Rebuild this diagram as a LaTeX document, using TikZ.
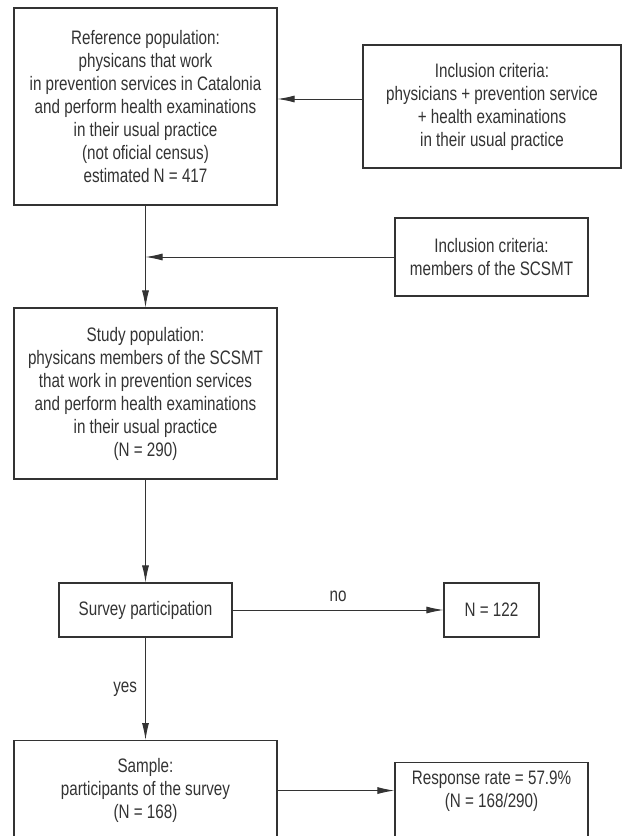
\documentclass[tikz,border=0pt]{standalone}
\usepackage{fontspec}
\setmainfont{Liberation Sans}[FakeStretch=0.78]
\usetikzlibrary{arrows.meta}
\definecolor{ink}{HTML}{333333}
\begin{document}
\begin{tikzpicture}[x=1bp,y=-1bp,
  txtfont/.style={font=\fontsize{19.5bp}{23bp}\selectfont},
  box/.style={draw=ink, line width=1.1bp, rectangle, align=center, inner sep=0pt, text=ink, txtfont},
  arr/.style={draw=ink, line width=1bp, -{Latex[length=17bp,width=7bp]}},
  lbl/.style={text=ink, inner sep=0pt, txtfont}]
\useasboundingbox (0,0) rectangle (622,836);
\clip (0,0) rectangle (622,836);

\node[box, minimum width=263bp, minimum height=197bp] (ref) at (145.5,106.5)
  {Reference population:\\physicans that work\\in prevention services in Catalonia\\and perform health examinations\\in their usual practice\\(not oficial census)\\estimated N = 417};
\node[box, minimum width=258bp, minimum height=123bp] (inc1) at (492,106.5)
  {Inclusion criteria:\\physicians + prevention service\\+ health examinations\\in their usual practice};
\node[box, minimum width=193bp, minimum height=78bp] (inc2) at (491.5,257)
  {Inclusion criteria:\\members of the SCSMT};
\node[box, minimum width=263bp, minimum height=171bp] (study) at (145.5,393.5)
  {Study population:\\physicans members of the SCSMT\\that work in prevention services\\and perform health examinations\\in their usual practice\\(N = 290)};
\node[box, minimum width=173bp, minimum height=54bp] (survey) at (145.5,610)
  {Survey participation};
\node[box, minimum width=95bp, minimum height=54bp] (n122) at (491.5,610)
  {N = 122};
\node[box, minimum width=263bp, minimum height=100bp, anchor=north] (sample) at (145.5,740)
  {Sample:\\participants of the survey\\(N = 168)};
\node[box, minimum width=193bp, inner ysep=8bp, text depth=70bp, anchor=north] (resp) at (491.5,762)
  {Response rate = 57.9\%\\(N = 168/290)};

\coordinate (a1) at (0,99);
\draw[arr] (a1 -| inc1.west) -- (a1 -| ref.east);
\draw[arr] (ref.south) -- (study.north);
\draw[arr] (inc2.west) -- (inc2.west -| ref.south);
\draw[arr] (study.south) -- (survey.north);
\draw[arr] (survey.east) -- node[lbl, above=8bp] (nolbl) {no} (n122.west);
\draw[arr] (survey.south) -- node[lbl, left=8bp] (yeslbl) {yes} (sample.north);
\draw[arr] (sample.east) -- (sample.east -| resp.west);
\end{tikzpicture}
\end{document}
